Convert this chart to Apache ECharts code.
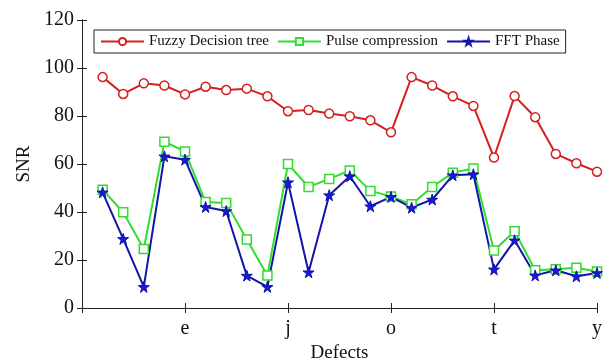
<!DOCTYPE html>
<html><head><meta charset="utf-8">
<script src="https://cdn.jsdelivr.net/npm/echarts@6/dist/echarts.min.js"></script>
<style>html,body{margin:0;padding:0;background:#fff}#c{width:606px;height:362px}</style>
</head><body><div id="c"></div>
<script>
var categories = ['a','b','c','d','e','f','g','h','i','j','k','l','m','n','o','p','q','r','s','t','u','v','w','x','y'];
var fuzzy = [96.2, 89.2, 93.6, 92.7, 89.0, 92.2, 90.8, 91.4, 88.2, 82.0, 82.5, 81.0, 79.9, 78.2, 73.2, 96.2, 92.7, 88.2, 84.2, 62.7, 88.3, 79.5, 64.2, 60.3, 56.8];
var pulse = [49.3, 39.9, 24.6, 69.3, 65.2, 44.2, 43.8, 28.5, 13.5, 60.0, 50.4, 53.8, 57.3, 48.8, 46.5, 43.2, 50.4, 56.4, 58.1, 24.0, 32.0, 15.7, 16.1, 16.8, 15.2];
var fft = [48.2, 28.8, 8.8, 63.2, 61.8, 42.1, 40.4, 13.5, 8.8, 52.4, 14.9, 47.0, 54.9, 42.4, 46.3, 41.8, 45.2, 55.3, 55.7, 16.1, 28.2, 13.6, 15.7, 13.2, 14.6];
var yTicks = [0, 20, 40, 60, 80, 100, 120];

function pts(arr){ return arr.map(function(v,i){ return [i+1, v]; }); }
var font = '"Liberation Serif", "Times New Roman", serif';
var star = 'path://M50,0 L61,35 L98,35 L68,57 L79,91 L50,70 L21,91 L32,57 L2,35 L39,35 Z';
var axisLine = {show:true, lineStyle:{color:'#222', width:1}};
var chart = echarts.init(document.getElementById('c'), null, {renderer:'canvas'});
chart.setOption({
  animation:false,
  backgroundColor:'#fff',
  textStyle:{fontFamily:font},
  grid:{left:82, right:9, top:20, bottom:54, outerBoundsMode:'none', containLabel:false},
  legend:{
    left:94, top:30, orient:'horizontal',
    itemWidth:43, itemHeight:9, itemGap:8,
    padding:[4,6,4,6],
    borderColor:'#222', borderWidth:1, backgroundColor:'#fff',
    textStyle:{fontFamily:font, fontSize:15, color:'#111'},
    data:['Fuzzy Decision tree','Pulse compression','FFT Phase']
  },
  xAxis:[{
    type:'value', min:0, max:25, interval:5,
    name:'Defects', nameLocation:'middle', nameGap:36,
    nameTextStyle:{fontFamily:font, fontSize:19, color:'#111'},
    axisLine:axisLine,
    axisTick:{show:true, inside:true, length:5, lineStyle:{color:'#222'}},
    axisLabel:{fontFamily:font, fontSize:20, color:'#111', margin:11,
      formatter:function(v){ return v>0 ? categories[v-1] : ''; }},
    splitLine:{show:false}
  },{
    type:'value', min:0, max:25, interval:5, position:'top',
    axisLine:axisLine,
    axisTick:{show:true, inside:true, length:5, lineStyle:{color:'#222'}},
    axisLabel:{show:false}, splitLine:{show:false}
  }],
  yAxis:[{
    type:'value', min:yTicks[0], max:yTicks[yTicks.length-1], interval:20,
    name:'SNR', nameLocation:'middle', nameGap:48, nameRotate:90,
    nameTextStyle:{fontFamily:font, fontSize:19, color:'#111'},
    axisLine:axisLine,
    axisTick:{show:true, inside:true, length:5, lineStyle:{color:'#222'}},
    axisLabel:{fontFamily:font, fontSize:20, color:'#111', margin:8},
    splitLine:{show:false}
  },{
    type:'value', min:yTicks[0], max:yTicks[yTicks.length-1], interval:20, position:'right',
    axisLine:axisLine,
    axisTick:{show:true, inside:true, length:5, lineStyle:{color:'#222'}},
    axisLabel:{show:false}, splitLine:{show:false}
  }],
  series:[{
    name:'Fuzzy Decision tree', type:'line', data:pts(fuzzy),
    symbol:'circle', symbolSize:9, showSymbol:true,
    lineStyle:{color:'#d42020', width:2},
    itemStyle:{color:'#fff', borderColor:'#d42020', borderWidth:1.5},
    color:'#d42020'
  },{
    name:'Pulse compression', type:'line', data:pts(pulse),
    symbol:'rect', symbolSize:9,
    lineStyle:{color:'#30dd30', width:2},
    itemStyle:{color:'#fff', borderColor:'#30dd30', borderWidth:1.5},
    color:'#30dd30'
  },{
    name:'FFT Phase', type:'line', data:pts(fft),
    symbol:star, symbolSize:11,
    lineStyle:{color:'#1414a8', width:2},
    itemStyle:{color:'#1818d8', borderColor:'#1414a8', borderWidth:1},
    color:'#1414a8'
  }]
});
</script></body></html>
